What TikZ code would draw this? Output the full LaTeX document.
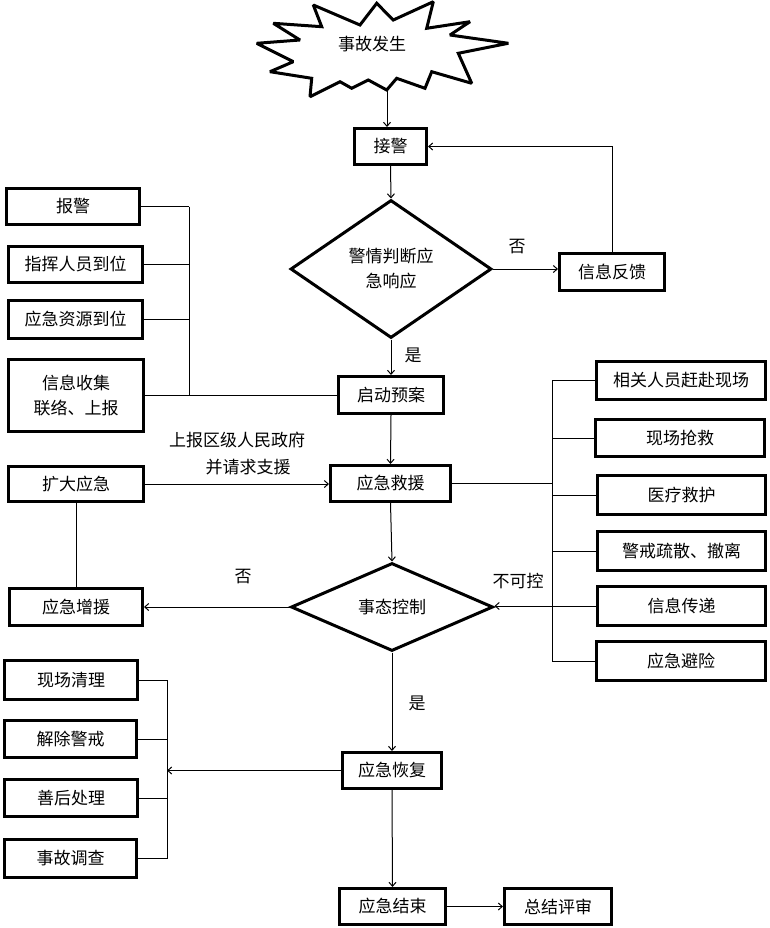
\documentclass[tikz,border=0pt]{standalone}
\usepackage{fontspec}
\setmainfont{Noto Sans CJK SC}
\usetikzlibrary{shapes.geometric,arrows.meta}
\begin{document}
\begin{tikzpicture}[x=1pt,y=-1pt,
  every node/.style={font=\fontsize{17}{25}\selectfont},
  box/.style={draw,line width=3pt,inner sep=0pt,align=center},
  dia/.style={draw,diamond,line width=3pt,inner sep=0pt,align=center},
  conn/.style={line width=1pt},
  arr/.style={conn,-{Straight Barb[length=4pt,width=7pt]}},
  lbl/.style={inner sep=0pt}]
\useasboundingbox (0,0) rectangle (769,928);

% starburst
\draw[line width=3pt,miter limit=2]
  (313.3,5) -- (360,25) -- (376.7,3.3) -- (393.3,20) -- (433.3,1.7) -- (426.7,28.3)
  -- (470,21.7) -- (450,35) -- (508.3,43.3) -- (458.3,53.3) -- (471.7,83.3)
  -- (431.7,71.7) -- (425,88.3) -- (396.7,78.3) -- (386.7,90) -- (368.3,80)
  -- (351.7,88.3) -- (340,81.7) -- (310,96.7) -- (311.7,78.3) -- (270,71.7)
  -- (293.3,61.7) -- (256.7,43.3) -- (300,40) -- (273.3,23.3) -- (321.7,26.7) -- cycle;
\node[lbl] (shigu) at (372,44) {事故发生};
\coordinate (bursttip) at (387,90);

% main column
\node[box,minimum width=72,minimum height=36] (jiejing) at (390.5,146.5) {接警};
\node[dia,minimum width=201,minimum height=138] (d1) at (391,269) {警情判断应\\急响应};
\node[box,minimum width=105,minimum height=37] (fankui) at (612,272) {信息反馈};
\node[box,minimum width=105,minimum height=37] (qidong) at (391,395) {启动预案};
\node[box,minimum width=120,minimum height=36] (jiuyuan) at (390.5,483.5) {应急救援};
\node[dia,minimum width=202,minimum height=88] (d2) at (392,607) {事态控制};
\node[box,minimum width=99,minimum height=36] (huifu) at (392,770.5) {应急恢复};
\node[box,minimum width=106,minimum height=36] (jieshu) at (392.5,906.5) {应急结束};
\node[box,minimum width=107,minimum height=36] (zongjie) at (558,906.5) {总结评审};

% left upper group
\node[box,minimum width=133,minimum height=36] (baojing) at (73,206.5) {报警};
\node[box,minimum width=134,minimum height=36] (zhihui) at (75.5,264.5) {指挥人员到位};
\node[box,minimum width=134,minimum height=38] (ziyuan) at (75.5,319.5) {应急资源到位};
\node[box,minimum width=135,minimum height=72] (xinxi) at (76,395.5) {信息收集\\联络、上报};

% left middle
\node[box,minimum width=135,minimum height=35] (kuoda) at (76,484) {扩大应急};
\node[box,minimum width=133,minimum height=37] (zengyuan) at (76,607) {应急增援};

% right group
\node[box,minimum width=169,minimum height=38] (r1) at (681,380.5) {相关人员赶赴现场};
\node[box,minimum width=169,minimum height=37] (r2) at (680,438) {现场抢救};
\node[box,minimum width=168,minimum height=39] (r3) at (681.5,495) {医疗救护};
\node[box,minimum width=168,minimum height=39] (r4) at (681.5,551) {警戒疏散、撤离};
\node[box,minimum width=168,minimum height=39] (r5) at (681.5,606) {信息传递};
\node[box,minimum width=169,minimum height=39] (r6) at (681,661) {应急避险};

% left lower group
\node[box,minimum width=133,minimum height=39] (l1) at (71,680) {现场清理};
\node[box,minimum width=132,minimum height=37] (l2) at (70.5,739) {解除警戒};
\node[box,minimum width=133,minimum height=37] (l3) at (71,798) {善后处理};
\node[box,minimum width=132,minimum height=38] (l4) at (70.5,858.5) {事故调查};

% labels
\node[lbl] (no1) at (517,247) {否};
\node[lbl] (yes1) at (413,355) {是};
\node[lbl] (up1) at (237,440) {上报区级人民政府};
\node[lbl] (up2) at (248,467) {并请求支援};
\node[lbl] (no2) at (243,577) {否};
\node[lbl] (bkk) at (518,581) {不可控};
\node[lbl] (yes2) at (417,703) {是};

% bracket coordinates
\coordinate (lbr) at (189,206.5);
\coordinate (rbr) at (552,380.5);
\coordinate (bbr) at (167,680);

% connectors
\draw[arr] (bursttip) -- (bursttip |- jiejing.north);
\draw[arr] (jiejing.south) -- (d1.north);
\draw[arr] (d1.east) -- (d1.east -| fankui.west);
\draw[arr] (fankui.north) |- (jiejing.east);
\draw[arr] (d1.south) -- (qidong.north);
\draw[arr] (qidong.south) -- (jiuyuan.north);
\draw[arr] (jiuyuan.south) -- (d2.north);
\draw[arr] (d2.south) -- (huifu.north);
\draw[arr] (huifu.south) -- (jieshu.north);
\draw[arr] (jieshu.east) -- (zongjie.west);

% left upper bracket
\draw[conn] (baojing.east) -- (lbr);
\draw[conn] (lbr) -- (lbr |- xinxi.east);
\draw[conn] (zhihui.east) -- (zhihui.east -| lbr);
\draw[conn] (ziyuan.east) -- (ziyuan.east -| lbr);
\draw[conn] (xinxi.east) -- (xinxi.east -| qidong.west);

% expand
\draw[arr] (kuoda.east) -- (kuoda.east -| jiuyuan.west);
\draw[conn] (kuoda.south) -- (zengyuan.north);
\draw[arr] (d2.west) -- (d2.west -| zengyuan.east);

% right bracket
\draw[conn] (jiuyuan.east) -- (jiuyuan.east -| rbr);
\draw[conn] (rbr) -- (rbr |- r6.west);
\draw[conn] (r1.west) -- (rbr);
\draw[conn] (r2.west) -- (r2.west -| rbr);
\draw[conn] (r3.west) -- (r3.west -| rbr);
\draw[conn] (r4.west) -- (r4.west -| rbr);
\draw[conn] (r6.west) -- (r6.west -| rbr);
\draw[arr] (r5.west) -- (r5.west -| d2.east);

% bottom left bracket
\draw[conn] (l1.east) -- (bbr);
\draw[conn] (bbr) -- (bbr |- l4.east);
\draw[conn] (l2.east) -- (l2.east -| bbr);
\draw[conn] (l3.east) -- (l3.east -| bbr);
\draw[conn] (l4.east) -- (l4.east -| bbr);
\draw[arr] (huifu.west) -- (huifu.west -| bbr);
\end{tikzpicture}
\end{document}
